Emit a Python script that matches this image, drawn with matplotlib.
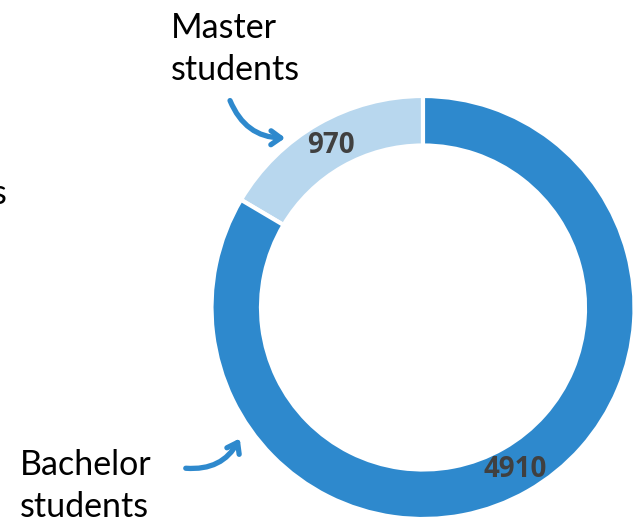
import matplotlib.pyplot as plt
from matplotlib.patches import FancyArrowPatch
import numpy as np

labels = ["Master\nstudents", "Bachelor\nstudents"]
values = [970, 4910]
colors = ["#B8D7EE", "#2E89CD"]

W, H = 639, 522
fig = plt.figure(figsize=(W / 100, H / 100), dpi=100)
ax = fig.add_axes([0, 0, 1, 1])

cx, cy, r_out, ring = 423, 214.5, 211.5, 49.5

wedges, _ = ax.pie(
    values,
    colors=colors,
    startangle=90,
    counterclock=True,
    center=(cx, cy),
    radius=r_out,
    wedgeprops=dict(width=ring, edgecolor="white", linewidth=3),
    frame=True,
)
ax.set_xlim(0, W)
ax.set_ylim(0, H)
ax.set_aspect("equal")
ax.axis("off")

# value labels in the middle of the ring
r_mid = r_out - ring / 2
for w, v in zip(wedges, values):
    a = np.deg2rad((w.theta1 + w.theta2) / 2)
    ax.text(cx + r_mid * np.cos(a), cy + r_mid * np.sin(a), str(v),
            ha="center", va="center", fontsize=20, fontweight="bold",
            color="#404040", family="Open Sans")

# last-line baseline alignment for the two-line labels
font = dict(family="Lato", fontsize=24.5, color="black", linespacing=1.38)
ax.text(171, H - 80, labels[0], ha="left", va="baseline", **font)
ax.text(20, H - 517, labels[1], ha="left", va="baseline", **font)
ax.text(7, H - 194, "s", ha="right", va="center", **font)

arrow_c = "#2E89CD"
style = "->,head_length=7,head_width=5"
a1 = FancyArrowPatch((229, H - 98), (288, H - 138),
                     connectionstyle="arc3,rad=0.35", arrowstyle=style,
                     color=arrow_c, lw=3.8, capstyle="round", joinstyle="round")
ax.add_patch(a1)
a2 = FancyArrowPatch((183, H - 468), (241, H - 436),
                     connectionstyle="arc3,rad=0.35", arrowstyle=style,
                     color=arrow_c, lw=3.8, capstyle="round", joinstyle="round")
ax.add_patch(a2)

fig.savefig("out.png", dpi=100)
